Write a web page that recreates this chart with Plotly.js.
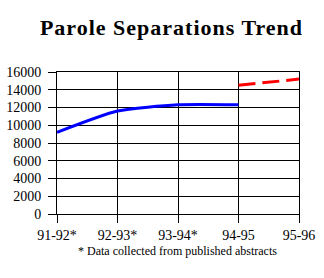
<!DOCTYPE html>
<html>
<head>
<meta charset="utf-8">
<script src="https://cdn.plot.ly/plotly-3.0.1.min.js"></script>
<style>html,body{margin:0;padding:0;background:#fff;}#chart{width:324px;height:278px;}
.gtitle{letter-spacing:1px;}</style>
</head>
<body>
<div id="chart"></div>
<script>
var categories = ['91-92*', '92-93*', '93-94*', '94-95', '95-96'];
var publishedYears = ['91-92*', '92-93*', '93-94*', '94-95'];
var publishedValues = [9200, 11600, 12300, 12300];
var projectedYears = ['94-95', '95-96'];
var projectedValues = [14500, 15200];
var yTicks = [0, 2000, 4000, 6000, 8000, 10000, 12000, 14000, 16000];

var traces = [
  {x: publishedYears, y: publishedValues, type: 'scatter', mode: 'lines',
   line: {color: '#0000FF', width: 3, shape: 'spline', smoothing: 0.6}, hoverinfo: 'none'},
  {x: projectedYears, y: projectedValues, type: 'scatter', mode: 'lines',
   line: {color: '#FF0000', width: 3, dash: '17px,7px'}, hoverinfo: 'none'}
];

var layout = {
  width: 324, height: 278,
  margin: {l: 57, r: 25, t: 72, b: 64, pad: 0},
  paper_bgcolor: '#fff', plot_bgcolor: '#fff',
  showlegend: false,
  title: {text: 'Parole Separations Trend', font: {family: 'Liberation Serif', size: 22, color: '#000', weight: 'bold'},
          x: 171.5/324, xref: 'container', xanchor: 'center', y: 1 - 27/278, yref: 'container', yanchor: 'middle'},
  xaxis: {type: 'category', categoryorder: 'array', categoryarray: categories,
          range: [0, 4], showgrid: true, gridcolor: '#000', gridwidth: 1,
          ticks: 'outside', ticklen: 8, tickcolor: '#000', tickwidth: 1,
          showline: true, linecolor: '#000', linewidth: 1, mirror: true,
          tickfont: {family: 'Liberation Serif', size: 14, color: '#000'}, fixedrange: true},
  yaxis: {range: [0, 16000], tickvals: yTicks, ticktext: yTicks.map(String),
          showgrid: true, gridcolor: '#000', gridwidth: 1, zeroline: true, zerolinecolor: '#000', zerolinewidth: 1,
          ticks: 'outside', ticklen: 8, tickcolor: '#000', tickwidth: 1, ticklabelstandoff: 4,
          showline: true, linecolor: '#000', linewidth: 1, mirror: true,
          tickfont: {family: 'Liberation Serif', size: 14, color: '#000'}, fixedrange: true},
  annotations: [{text: '* Data collected from published abstracts', xref: 'paper', yref: 'paper',
                 x: (177 - 57) / 242, y: -(251 - 214.3) / 142.6, xanchor: 'center', yanchor: 'middle',
                 showarrow: false, font: {family: 'Liberation Serif', size: 12, color: '#000'}}]
};

Plotly.newPlot('chart', traces, layout, {displayModeBar: false, staticPlot: true});
</script>
</body>
</html>
